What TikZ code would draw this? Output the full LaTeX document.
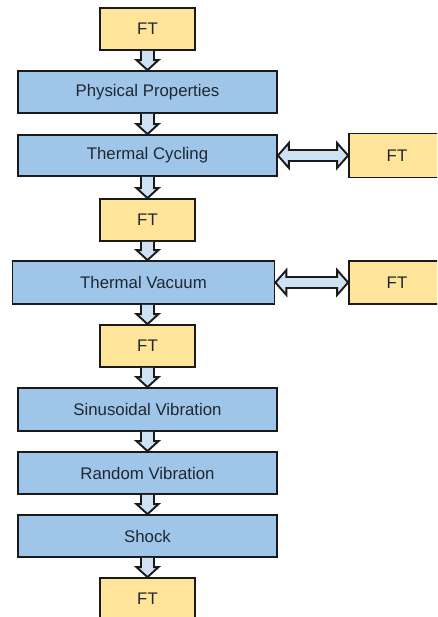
\documentclass[tikz,border=0pt]{standalone}
\usepackage{fontspec}
\setmainfont{Liberation Sans}
\usetikzlibrary{calc}
\definecolor{boxblue}{HTML}{9FC5E8}
\definecolor{boxyellow}{HTML}{FFE599}
\definecolor{arrowfill}{HTML}{CFE2F3}
\definecolor{edge}{HTML}{1A1A1A}
\definecolor{txt}{HTML}{1E2833}
\tikzset{
  base/.style={draw=edge, line width=1.8pt, rectangle, inner sep=0pt,
    font=\fontsize{16.8}{20}\selectfont, text=txt},
  bluebox/.style={base, fill=boxblue, minimum width=259pt, minimum height=42pt},
  ftbox/.style={base, fill=boxyellow, minimum width=95pt, minimum height=42pt},
  blockarrow/.style={draw=edge, fill=arrowfill, line width=1.9pt, line join=miter},
}
\newcommand{\downblock}[2]{%
  \draw[blockarrow] let \p1=(#1.south -| spine), \p2=(#2.north -| spine) in
    (\x1-6.5pt,\y1) -- (\x1-6.5pt,\y2+10pt) -- (\x1-11pt,\y2+10pt) -- (\x1,\y2)
    -- (\x1+11pt,\y2+10pt) -- (\x1+6.5pt,\y2+10pt) -- (\x1+6.5pt,\y1);}
\newcommand{\sideblock}[2]{%
  \draw[blockarrow] let \p1=(#1.east), \p2=(#2.west) in
    (\x1,\y1) -- (\x1+11pt,\y1+12.5pt) -- (\x1+11pt,\y1+5.5pt) -- (\x2-11pt,\y1+5.5pt)
    -- (\x2-11pt,\y1+12.5pt) -- (\x2,\y1) -- (\x2-11pt,\y1-12.5pt) -- (\x2-11pt,\y1-5.5pt)
    -- (\x1+11pt,\y1-5.5pt) -- (\x1+11pt,\y1-12.5pt) -- cycle;}
\begin{document}
\begin{tikzpicture}[x=1pt,y=-1pt]
\useasboundingbox (0,0) rectangle (437,617);
\clip (0,0) rectangle (437,617);
\fill[white] (0,0) rectangle (437,617);
\coordinate (spine) at (147.5,0);
\node[ftbox] (ft1) at (147.5,29) {FT};
\node[bluebox] (pp) at (147.5,92) {Physical Properties};
\node[bluebox, minimum height=41pt] (tc) at (147.5,155.5) {Thermal Cycling};
\node[ftbox, minimum width=96pt, minimum height=44pt] (ftr1) at (397,155.5) {FT};
\node[ftbox] (ft2) at (147.5,220) {FT};
\node[bluebox, minimum width=262pt, minimum height=43pt] (tv) at (143.5,282.5) {Thermal Vacuum};
\node[ftbox, minimum width=96pt, minimum height=43pt] (ftr2) at (397,282.5) {FT};
\node[ftbox] (ft3) at (147.5,346) {FT};
\node[bluebox, minimum height=43pt] (sv) at (147.5,409.5) {Sinusoidal Vibration};
\node[bluebox] (rv) at (147.5,473) {Random Vibration};
\node[bluebox] (sh) at (147.5,536) {Shock};
\node[ftbox] (ft4) at (147.5,599) {FT};
\downblock{ft1}{pp}
\downblock{pp}{tc}
\downblock{tc}{ft2}
\downblock{ft2}{tv}
\downblock{tv}{ft3}
\downblock{ft3}{sv}
\downblock{sv}{rv}
\downblock{rv}{sh}
\downblock{sh}{ft4}
\sideblock{tc}{ftr1}
\sideblock{tv}{ftr2}
\end{tikzpicture}
\end{document}
